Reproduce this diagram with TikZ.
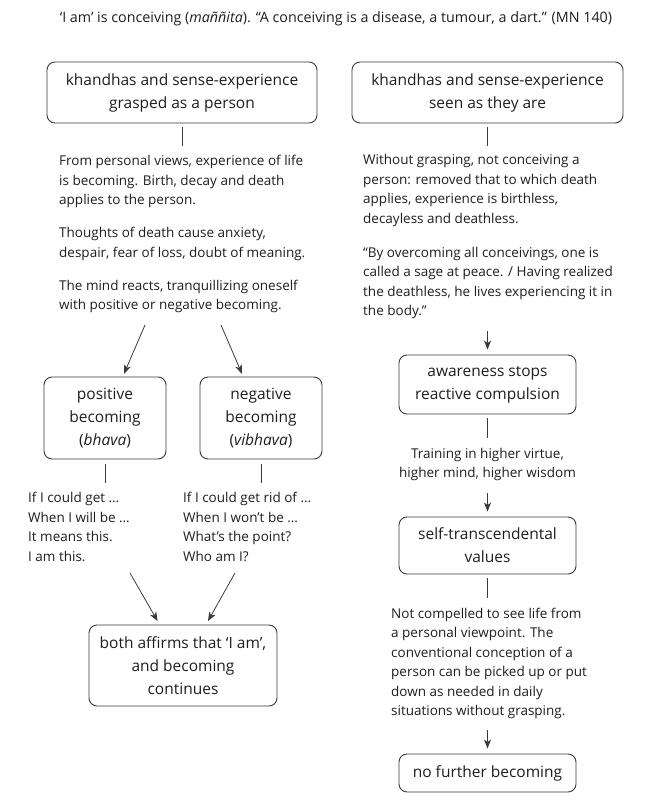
\documentclass[tikz,border=0pt]{standalone}
\usepackage{fontspec}
\setmainfont{Open Sans}
\usetikzlibrary{arrows.meta}
\definecolor{ink}{HTML}{1E1E1E}
\definecolor{edge}{HTML}{3A3A3A}
\begin{document}
\begin{tikzpicture}[x=1pt,y=-1pt,
  box/.style={draw=edge, line width=0.9pt, rounded corners=8pt, align=center,
    font=\fontsize{15.5}{23}\selectfont, text=ink, inner sep=0pt},
  body/.style={align=left, font=\fontsize{13.5}{19.5}\selectfont, text=ink, inner sep=0pt, anchor=base west},
  conn/.style={draw=edge, line width=0.8pt},
  arr/.style={conn, -{Stealth[length=9pt,width=7pt,inset=2.5pt]}}]
\useasboundingbox (0,0) rectangle (645,810);

% title
\node[body, anchor=base, font=\fontsize{14.3}{19.5}\selectfont] (title) at (336,22.5)
  {‘I am’ is conceiving (\textit{maññita}). “A conceiving is a disease, a tumour, a dart.” (MN 140)};

% top boxes
\node[box, minimum width=270pt, minimum height=61pt] (b1) at (182,92.5)
  {khandhas and sense-experience\\grasped as a person};
\node[box, minimum width=271pt, minimum height=61pt] (b2) at (487.5,92.5)
  {khandhas and sense-experience\\seen as they are};

\coordinate (t1) at (182,146);
\coordinate (t2) at (487.5,146);
\draw[conn] ([yshift=-4pt]b1.south) -- (t1);
\draw[conn] ([yshift=-4pt]b2.south) -- (t2);

% left text (anchor at baseline of last line)
\node[body] (lt) at (59,309.5)
  {From personal views, experience of life\\
   is becoming. Birth, decay and death\\
   applies to the person.\\[13.5pt]
   Thoughts of death cause anxiety,\\
   despair, fear of loss, doubt of meaning.\\[13.5pt]
   The mind reacts, tranquillizing oneself\\
   with positive or negative becoming.};

% right text
\node[body] (rt) at (363,315.5)
  {Without grasping, not conceiving a\\
   person: removed that to which death\\
   applies, experience is birthless,\\
   decayless and deathless.\\[14.5pt]
   “By overcoming all conceivings, one is\\
   called a sage at peace. / Having realized\\
   the deathless, he lives experiencing it in\\
   the body.”};

% positive / negative boxes
\node[box, minimum width=122pt, minimum height=82pt] (pos) at (105,418)
  {positive\\becoming\\(\textit{bhava})};
\node[box, minimum width=122pt, minimum height=82pt] (neg) at (261,418)
  {negative\\becoming\\(\textit{vibhava})};

\coordinate (a1) at (145,325);
\coordinate (a2) at (221,325);
\draw[arr, shorten >=3pt] (a1) -- (pos);
\draw[arr, shorten >=3pt] (a2) -- (neg);

\coordinate (t3) at (105,483);
\coordinate (t4) at (261,483);
\draw[conn] ([yshift=-5pt]pos.south) -- (t3);
\draw[conn] ([yshift=-5pt]neg.south) -- (t4);

\node[body, font=\fontsize{13.5}{19.6}\selectfont] (pl) at (28,561.5)
  {If I could get …\\When I will be …\\It means this.\\I am this.};
\node[body, font=\fontsize{13.5}{19.6}\selectfont] (nl) at (183,561.5)
  {If I could get rid of …\\When I won’t be …\\What’s the point?\\Who am I?};

% bottom left box
\node[box, minimum width=188pt, minimum height=81pt] (both) at (183,665.5)
  {both affirms that ‘I am’,\\and becoming\\continues};
\coordinate (a3) at (130,573);
\coordinate (a4) at (235,573);
\draw[arr, shorten >=4pt] (a3) -- (both);
\draw[arr, shorten >=4pt] (a4) -- (both);

% right column
\node[box, minimum width=177pt, minimum height=59pt] (aw) at (487.5,384.5)
  {awareness stops\\reactive compulsion};
\coordinate (a5) at (487.5,331);
\draw[arr, shorten >=5pt] (a5) -- (aw.north);

\coordinate (t5) at (487.5,438);
\draw[conn] ([yshift=-4pt]aw.south) -- (t5);

\node[body, anchor=base, align=center] (tr) at (487.5,477.5)
  {Training in higher virtue,\\higher mind, higher wisdom};

\node[box, minimum width=177pt, minimum height=57pt] (self) at (487.5,545.5)
  {self-transcendental\\values};
\coordinate (a6) at (487.5,493);
\draw[arr, shorten >=5pt] (a6) -- (self.north);

\coordinate (t6) at (487.5,598);
\draw[conn] ([yshift=-4pt]self.south) -- (t6);

\node[body, font=\fontsize{13.5}{19.4}\selectfont] (rb) at (391,715.5)
  {Not compelled to see life from\\
   a personal viewpoint. The\\
   conventional conception of a\\
   person can be picked up or put\\
   down as needed in daily\\
   situations without grasping.};

\node[box, minimum width=177pt, minimum height=38pt] (nf) at (487.5,773)
  {no further becoming};
\coordinate (a7) at (487.5,730);
\draw[arr, shorten >=5pt] (a7) -- (nf.north);
\end{tikzpicture}
\end{document}
